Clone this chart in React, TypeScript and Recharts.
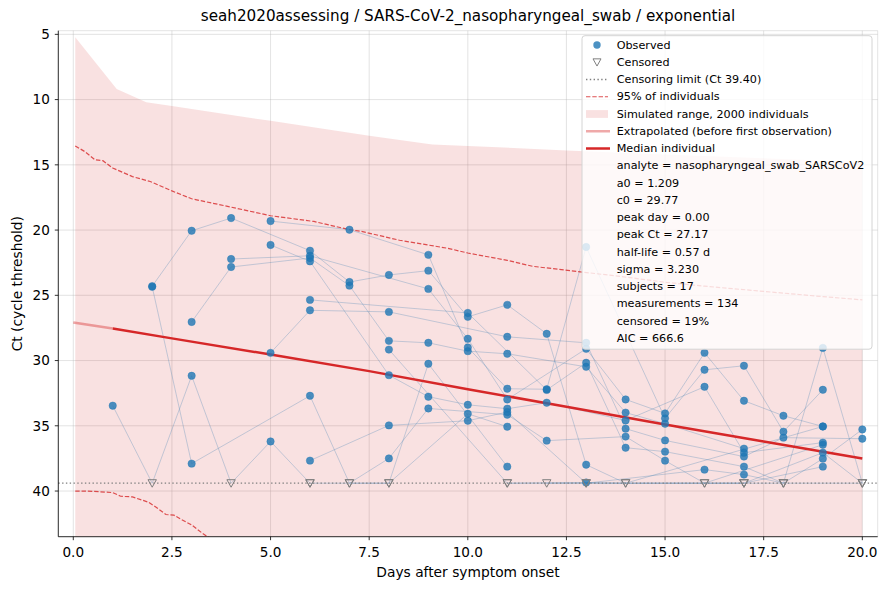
import React from 'react';
import {
  ComposedChart,
  XAxis,
  YAxis,
  CartesianGrid,
  Area,
  Line,
  Scatter,
  ReferenceLine,
} from 'recharts';

const FONT = '"DejaVu Sans", Verdana, sans-serif';
const CENSOR_LIMIT = 39.4;

// per-subject measurements: [day, Ct]; null = censored (below detection)
type Obs = [number, number | null];
const subjects: Obs[][] = [
  [[1, 33.46], [2, null], [3, 31.17], [4, null], [5, 36.2], [6, null]],
  [[7, null], [8, null], [10, 34.08], [11, 35.07]],
  [[2, 24.3], [3, 20.05], [4, 19.08], [6, 21.58], [7, 23.98], [8, 23.44], [9, 23.11], [10, 26.65], [11, 25.73], [12, 27.95], [13, 37.98], [14, null], [19, 35.05]],
  [[2, 24.35], [3, 37.9], [6, 32.7], [7, null], [8, 37.5], [9, 33.67], [11, 34.15], [12, 36.14], [14, 35.83], [15, 37.67], [16, null], [19, 36.45]],
  [[3, 27.04], [4, 22.83], [6, 22.14], [7, 24.26], [8, 28.49], [9, 28.64], [10, 29.28], [11, 29.48], [13, 30.48], [14, 33.99], [15, 34.84], [17, 36.75]],
  [[4, 22.22], [6, 21.97], [9, 24.51], [10, 28.33], [11, 32.98], [13, 29.1], [14, 32.98], [15, 34.05], [16, 29.41], [17, 33.08], [18, 34.23], [19, 35.05]],
  [[5, 19.31], [7, 19.97], [9, 21.9], [10, 29.0], [11, 32.16], [12, 32.2], [13, 21.3], [15, 34.43], [16, 30.71], [17, 30.4], [18, 35.45], [19, 32.24]],
  [[5, 21.14], [6, 22.4], [8, 31.12], [9, 32.77], [10, 33.39], [11, 33.69], [12, 33.23], [14, 34.59], [16, 32.01], [17, 37.06], [19, 36.29]],
  [[5, 29.41], [6, 26.15], [8, 26.27], [11, 28.18], [13, 28.64], [14, 35.22], [15, 36.12], [17, 37.36], [18, 35.91], [20, 35.99]],
  [[6, 25.35], [10, 26.35], [12, 32.25], [13, 30.17], [14, 36.68], [15, 36.98], [17, 38.13], [18, null], [19, 29.03], [20, null]],
  [[6, 37.67], [8, 34.97], [10, 34.61], [11, 33.95], [13, null], [16, 38.36], [17, 38.74], [18, null], [19, 37.52], [20, 35.28]],
  [[6, null], [8, null], [9, 30.25], [11, 38.13]],
  [[12, null], [16, null], [17, null], [18, null], [20, null]],
  [[8, 29.16], [11, null], [13, null], [17, null], [19, 38.13]],
  [[11, null], [13, 39.35], [14, null], [17, null], [19, 37.06], [20, null]],
];

// simulated range (upper edge; lower edge lies below the axis)
const bandDays = [0.05, 1.1, 1.85, 2.5, 5, 7.5, 9.1, 10, 12.5, 15, 17.5, 20];
const bandTop = [5.23, 9.19, 10.2, 10.5, 11.63, 12.78, 13.45, 13.55, 13.9, 14.2, 14.5, 14.8];
const BAND_FLOOR = 50;

// 95% of individuals
const upperDays = [0.05, 0.3, 0.55, 0.75, 1.0, 1.5, 1.95, 2.5, 3.0, 4.0, 5.0, 5.75, 6.1, 7.0, 7.3, 8.27, 9.5, 10.0, 11.0, 11.65, 12.85, 14, 15, 16, 17.5, 19, 20];
const upperCt = [13.55, 14.0, 14.62, 14.68, 15.25, 15.9, 16.28, 17.0, 17.6, 18.24, 18.9, 19.2, 19.34, 19.97, 20.1, 20.78, 21.4, 21.76, 22.32, 22.78, 23.2, 23.6, 24.0, 24.3, 24.7, 25.1, 25.35];
const lowerDays = [0.05, 0.5, 1.0, 1.2, 1.5, 1.9, 2.1, 2.35, 2.55, 2.75, 3.0, 3.3, 3.6, 4.5];
const lowerCt = [40.0, 40.02, 40.12, 40.4, 40.45, 40.85, 41.25, 41.8, 41.85, 42.2, 42.6, 43.3, 43.9, 45.0];

// median individual
const medianDays = [1, 2.5, 5, 7.5, 10, 12.5, 15, 17.5, 20];
const medianCt = [27.55, 28.3, 29.54, 30.81, 32.2, 33.54, 34.9, 36.2, 37.5];
const extrapDays = [0, 1];
const extrapCt = [27.08, 27.55];

const xTicks = [0, 2.5, 5, 7.5, 10, 12.5, 15, 17.5, 20];
const yTicks = [5, 10, 15, 20, 25, 30, 35, 40];

const fitLines = [
  'analyte = nasopharyngeal_swab_SARSCoV2',
  'a0 = 1.209',
  'c0 = 29.77',
  'peak day = 0.00',
  'peak Ct = 27.17',
  'half-life = 0.57 d',
  'sigma = 3.230',
  'subjects = 17',
  'measurements = 134',
  'censored = 19%',
  'AIC = 666.6',
];

const zip = (xs: number[], ys: number[]) => xs.map((day, i) => ({ day, ct: ys[i] }));

const subjectSeries = subjects.map((s) => s.map(([day, v]) => ({ day, ct: v ?? CENSOR_LIMIT })));
const observed = subjects.flatMap((s) => s.filter((p) => p[1] !== null).map(([day, v]) => ({ day, ct: v as number })));
const censored = subjects.flatMap((s) => s.filter((p) => p[1] === null).map(([day]) => ({ day, ct: CENSOR_LIMIT })));
const bandData = bandDays.map((day, i) => ({ day, ct: [bandTop[i], BAND_FLOOR] }));

const RED = '#d62728';
const BLUE = '#1f77b4';
const GREY = '#7f7f7f';

const Dot = (p: any) => <circle cx={p.cx} cy={p.cy} r={3.7} fill={BLUE} fillOpacity={0.8} stroke={BLUE} strokeOpacity={0.8} strokeWidth={0.5} />;
const Tri = (p: any) => (
  <polygon
    points={`${p.cx - 4.2},${p.cy - 3.5} ${p.cx + 4.2},${p.cy - 3.5} ${p.cx},${p.cy + 4}`}
    fill="none"
    stroke={GREY}
    strokeWidth={1}
  />
);

function Legend() {
  const left = 582;
  const top = 35.7;
  const rowY = (i: number) => 45 + i * 17.25;
  const hx0 = 586;
  const hx1 = 608;
  const tx = 616.7;
  const entries = [
    'Observed',
    'Censored',
    'Censoring limit (Ct 39.40)',
    '95% of individuals',
    'Simulated range, 2000 individuals',
    'Extrapolated (before first observation)',
    'Median individual',
  ];
  return (
    <g>
      <rect x={left} y={top} width={290} height={313.5} rx={3} fill="#fff" fillOpacity={0.8} stroke="#d4d4d4" strokeWidth={1} />
      <circle cx={597} cy={rowY(0)} r={3.7} fill={BLUE} fillOpacity={0.8} />
      <polygon points={`593,${rowY(1) - 3.4} 601,${rowY(1) - 3.4} 597,${rowY(1) + 3.8}`} fill="none" stroke={GREY} />
      <line x1={hx0} x2={hx1} y1={rowY(2)} y2={rowY(2)} stroke={GREY} strokeWidth={1.3} strokeDasharray="1.4 2.4" />
      <line x1={hx0} x2={hx1} y1={rowY(3)} y2={rowY(3)} stroke={RED} strokeOpacity={0.8} strokeWidth={1.2} strokeDasharray="4.4 1.9" />
      <rect x={hx0} y={rowY(4) - 3.9} width={hx1 - hx0} height={7.8} fill={RED} fillOpacity={0.14} />
      <line x1={hx0} x2={hx1 + 2} y1={rowY(5)} y2={rowY(5)} stroke={RED} strokeOpacity={0.4} strokeWidth={2.5} />
      <line x1={hx0} x2={hx1 + 2} y1={rowY(6)} y2={rowY(6)} stroke={RED} strokeWidth={2.5} />
      {[...entries, ...fitLines].map((t, i) => (
        <text key={i} x={tx} y={rowY(i)} dominantBaseline="central" fontSize={11.2} fill="#000">
          {t}
        </text>
      ))}
    </g>
  );
}

export default function App() {
  const axisStyle = { stroke: '#000', strokeWidth: 0.8 };
  const tickStyle = { fontSize: 13.6, fill: '#000', fontFamily: FONT };
  return (
    <div style={{ position: 'absolute', left: 0, top: 0, width: 887, height: 590, fontFamily: FONT, background: '#fff' }}>
      <ComposedChart width={887} height={590} margin={{ top: 30.7, right: 9.3, bottom: 0, left: 0 }}>
        <CartesianGrid stroke="#b0b0b0" strokeOpacity={0.45} strokeWidth={0.8} />
        <XAxis
          type="number"
          dataKey="day"
          domain={[-0.38, 20.39]}
          ticks={xTicks}
          interval={0}
          allowDataOverflow
          tickFormatter={(v: number) => v.toFixed(1)}
          height={53.3}
          tickSize={3.5}
          tickMargin={7}
          axisLine={axisStyle}
          tickLine={axisStyle}
          tick={tickStyle}
        />
        <XAxis xAxisId="top" orientation="top" type="number" domain={[-0.38, 20.39]} height={0} tick={false} tickLine={false} axisLine={axisStyle} />
        <YAxis
          type="number"
          dataKey="ct"
          domain={[4.72, 43.5]}
          reversed
          ticks={yTicks}
          interval={0}
          allowDataOverflow
          width={58.3}
          tickSize={3.5}
          tickMargin={5}
          axisLine={axisStyle}
          tickLine={axisStyle}
          tick={tickStyle}
        />
        <YAxis yAxisId="right" orientation="right" type="number" domain={[4.72, 43.5]} width={0} tick={false} tickLine={false} axisLine={axisStyle} />

        <Area data={bandData} dataKey="ct" type="linear" stroke="none" fill={RED} fillOpacity={0.14} isAnimationActive={false} />

        {subjectSeries.map((s, i) => (
          <Line key={i} data={s} dataKey="ct" type="linear" stroke="#4682b4" strokeOpacity={0.34} strokeWidth={0.9} dot={false} activeDot={false} isAnimationActive={false} />
        ))}

        <Line data={zip(upperDays, upperCt)} dataKey="ct" type="linear" stroke={RED} strokeOpacity={0.8} strokeWidth={1.2} strokeDasharray="4.4 1.9" dot={false} isAnimationActive={false} />
        <Line data={zip(lowerDays, lowerCt)} dataKey="ct" type="linear" stroke={RED} strokeOpacity={0.8} strokeWidth={1.2} strokeDasharray="4.4 1.9" dot={false} isAnimationActive={false} />

        <ReferenceLine y={CENSOR_LIMIT} stroke={GREY} strokeWidth={1.3} strokeDasharray="1.4 2.4" />

        <Scatter data={observed} shape={Dot} isAnimationActive={false} />
        <Scatter data={censored} shape={Tri} isAnimationActive={false} />

        <Line data={zip(extrapDays, extrapCt)} dataKey="ct" type="linear" stroke={RED} strokeOpacity={0.4} strokeWidth={2.5} dot={false} isAnimationActive={false} />
        <Line data={zip(medianDays, medianCt)} dataKey="ct" type="linear" stroke={RED} strokeWidth={2.5} dot={false} isAnimationActive={false} />
      </ComposedChart>

      <svg width={887} height={590} style={{ position: 'absolute', left: 0, top: 0, pointerEvents: 'none' }} fontFamily={FONT}>
        <text x={468} y={16} textAnchor="middle" dominantBaseline="central" fontSize={15.2} fill="#000">
          seah2020assessing / SARS-CoV-2_nasopharyngeal_swab / exponential
        </text>
        <text x={468} y={571.7} textAnchor="middle" dominantBaseline="central" fontSize={13.8} fill="#000">
          Days after symptom onset
        </text>
        <text x={17} y={283.7} textAnchor="middle" dominantBaseline="central" fontSize={13.8} fill="#000" transform="rotate(-90 17 283.7)">
          Ct (cycle threshold)
        </text>
        <Legend />
      </svg>
    </div>
  );
}
